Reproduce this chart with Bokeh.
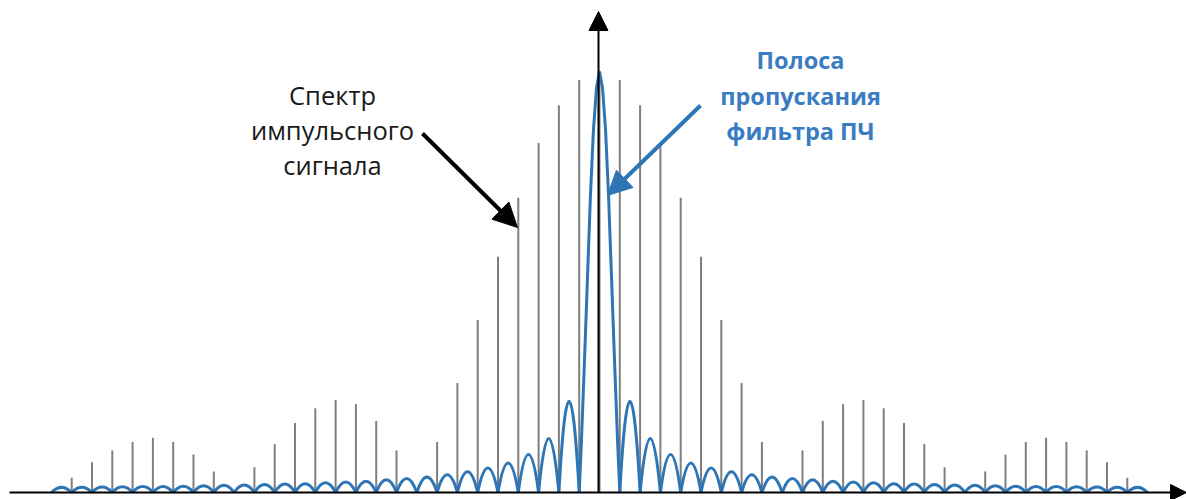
from bokeh.plotting import figure
from bokeh.models import Range1d, Arrow, NormalHead
from bokeh.core.properties import value
from bokeh.embed import file_html
from bokeh.resources import INLINE

# ---- data ----
# spectral lines: harmonic numbers 0..26 (symmetric about 0) and relative amplitudes
harm_pos = list(range(0, 27))
line_amp_pos = [1.00, 0.98, 0.92, 0.83, 0.70, 0.56, 0.41, 0.26, 0.12, 0.00,
                0.10, 0.17, 0.21, 0.22, 0.20, 0.165, 0.115, 0.06, 0.00,
                0.05, 0.09, 0.12, 0.13, 0.12, 0.10, 0.072, 0.035]

# IF filter response: main lobe (offset from centre, amplitude)
main_dx = [0.0, 0.15, 0.30, 0.45, 0.60, 0.75, 0.90, 1.00]
main_amp = [1.00, 0.96, 0.86, 0.70, 0.50, 0.30, 0.11, 0.00]
# side lobes between nulls n and n+1 (n = 1..26), peak amplitudes
lobe_n = list(range(1, 27))
lobe_peak = [0.217, 0.128, 0.090, 0.070, 0.058, 0.049, 0.042, 0.037, 0.033, 0.030,
             0.027, 0.025, 0.023, 0.021, 0.020, 0.019, 0.018, 0.017, 0.016, 0.015,
             0.0145, 0.014, 0.0135, 0.013, 0.0125, 0.012]

label_spectrum = ["Спектр", "импульсного", "сигнала"]
label_filter = ["Полоса", "пропускания", "фильтра ПЧ"]

# ---- layout helpers (reference pixel -> data) ----
SP = 20.3      # px per harmonic
XC = 599.0     # px of centre
AMP = 421.0    # px per unit amplitude
BASE = 492.0   # px of baseline
def dx(px):
    return (px - XC) / SP
def dy(py):
    return (BASE - py) / AMP

W, H = 1186, 499
p = figure(width=W, height=H, output_backend="svg", toolbar_location=None,
           x_range=Range1d(dx(0), dx(W)), y_range=Range1d(dy(H), dy(0)),
           min_border=0)
p.axis.visible = False
p.grid.visible = False
p.outline_line_color = None
p.background_fill_color = "white"
p.border_fill_color = "white"

# spectral lines
hk = [-k for k in harm_pos[:0:-1]] + harm_pos
ha = line_amp_pos[:0:-1] + line_amp_pos
p.segment(x0=hk, y0=[0] * len(hk), x1=hk, y1=ha, line_color="#7f7f7f", line_width=2)

BLUE = "#2e75b6"
# filter response main lobe
mx = [-d for d in main_dx[:0:-1]] + main_dx
my = main_amp[:0:-1] + main_amp
p.line(mx, my, line_color=BLUE, line_width=3)
# side lobes
x0s, x1s, cxs, cys = [], [], [], []
for s in (1, -1):
    for n, pk in zip(lobe_n, lobe_peak):
        x0s.append(s * n)
        x1s.append(s * (n + 1))
        cxs.append(s * (n + 0.5))
        cys.append(2 * pk)
p.quadratic(x0=x0s, y0=[0] * len(x0s), x1=x1s, y1=[0] * len(x1s), cx=cxs, cy=cys,
            line_color=BLUE, line_width=3)

# axes with arrows
p.add_layout(Arrow(x_start=dx(9), y_start=0, x_end=dx(1186), y_end=0,
                   line_color="black", line_width=2,
                   end=NormalHead(size=16, fill_color="black", line_color="black")))
p.add_layout(Arrow(x_start=dx(598), y_start=0, x_end=dx(598), y_end=dy(11),
                   line_color="black", line_width=2,
                   end=NormalHead(size=19, fill_color="black", line_color="black")))

# annotation arrows
p.add_layout(Arrow(x_start=dx(422), y_start=dy(133), x_end=dx(517), y_end=dy(227),
                   line_color="black", line_width=4,
                   end=NormalHead(size=24, fill_color="black", line_color="black")))
p.add_layout(Arrow(x_start=dx(700), y_start=dy(105), x_end=dx(607), y_end=dy(195),
                   line_color=BLUE, line_width=4,
                   end=NormalHead(size=24, fill_color=BLUE, line_color=BLUE)))

# texts
p.text(x=[dx(332)] * 3, y=[dy(94), dy(129), dy(164)], text=label_spectrum,
       text_font=value("Open Sans"), text_font_size=value("25.5px"),
       text_align="center", text_baseline="alphabetic", text_color="#1a1a1a")
p.text(x=[dx(800)] * 3, y=[dy(59), dy(95), dy(130)], text=label_filter,
       text_font=value("Open Sans"), text_font_size=value("23.5px"), text_font_style="bold",
       text_align="center", text_baseline="alphabetic", text_color="#3a7cc2")

open("out.html", "w").write(file_html(p, INLINE))
